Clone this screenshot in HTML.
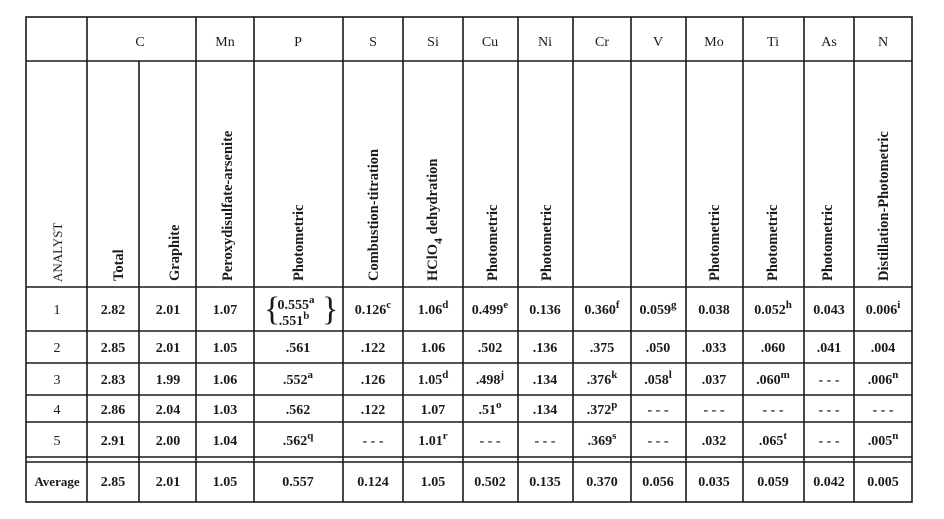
<!DOCTYPE html>
<html><head><meta charset="utf-8"><style>
html,body{margin:0;padding:0;background:#fff;}
svg{display:block;}
text{font-family:"Liberation Serif",serif;fill:#1a1a1a;}
.n{font-size:14px;font-weight:bold;text-anchor:middle;}
.h{font-size:14px;text-anchor:middle;}
.r{font-size:14.5px;font-weight:bold;}
.s{font-size:11px;font-weight:bold;}
</style></head><body>
<svg width="944" height="519" viewBox="0 0 944 519" xmlns="http://www.w3.org/2000/svg">
<g stroke="#1a1a1a" stroke-width="1.6" fill="none">
<rect x="26" y="17" width="886" height="485"/>
<line x1="26" y1="61" x2="912" y2="61"/>
<line x1="26" y1="287" x2="912" y2="287"/>
<line x1="26" y1="331" x2="912" y2="331"/>
<line x1="26" y1="363" x2="912" y2="363"/>
<line x1="26" y1="395" x2="912" y2="395"/>
<line x1="26" y1="422" x2="912" y2="422"/>
<line x1="26" y1="457" x2="912" y2="457"/>
<line x1="26" y1="462" x2="912" y2="462"/>
<line x1="87" y1="17" x2="87" y2="502"/>
<line x1="139" y1="61" x2="139" y2="502"/>
<line x1="196" y1="17" x2="196" y2="502"/>
<line x1="254" y1="17" x2="254" y2="502"/>
<line x1="343" y1="17" x2="343" y2="502"/>
<line x1="403" y1="17" x2="403" y2="502"/>
<line x1="463" y1="17" x2="463" y2="502"/>
<line x1="518" y1="17" x2="518" y2="502"/>
<line x1="573" y1="17" x2="573" y2="502"/>
<line x1="631" y1="17" x2="631" y2="502"/>
<line x1="686" y1="17" x2="686" y2="502"/>
<line x1="743" y1="17" x2="743" y2="502"/>
<line x1="804" y1="17" x2="804" y2="502"/>
<line x1="854" y1="17" x2="854" y2="502"/>
</g>
<g class="h">
<text class="h" x="140" y="46">C</text>
<text class="h" x="225" y="46">Mn</text>
<text class="h" x="298" y="46">P</text>
<text class="h" x="373" y="46">S</text>
<text class="h" x="433" y="46">Si</text>
<text class="h" x="490" y="46">Cu</text>
<text class="h" x="545" y="46">Ni</text>
<text class="h" x="602" y="46">Cr</text>
<text class="h" x="658" y="46">V</text>
<text class="h" x="714" y="46">Mo</text>
<text class="h" x="773" y="46">Ti</text>
<text class="h" x="829" y="46">As</text>
<text class="h" x="883" y="46">N</text>
</g>
<g>
<text class="r" style="font-weight:normal;font-size:13px" transform="translate(62,282) rotate(-90)">ANALYST</text>
<text class="r" transform="translate(123,281) rotate(-90)">Total</text>
<text class="r" transform="translate(179,281) rotate(-90)">Graphite</text>
<text class="r" transform="translate(232,281) rotate(-90)">Peroxydisulfate-arsenite</text>
<text class="r" transform="translate(303,281) rotate(-90)">Photometric</text>
<text class="r" transform="translate(378,281) rotate(-90)">Combustion-titration</text>
<text class="r" transform="translate(437,281) rotate(-90)">HClO<tspan dy="5" font-size="12">4</tspan><tspan dy="-5"> dehydration</tspan></text>
<text class="r" transform="translate(497,281) rotate(-90)">Photometric</text>
<text class="r" transform="translate(551,281) rotate(-90)">Photometric</text>
<text class="r" transform="translate(719,281) rotate(-90)">Photometric</text>
<text class="r" transform="translate(777,281) rotate(-90)">Photometric</text>
<text class="r" transform="translate(832,281) rotate(-90)">Photometric</text>
<text class="r" transform="translate(888,281) rotate(-90)">Distillation-Photometric</text>
</g>
<g>
<text class="n" x="57" y="314" style="font-weight:normal">1</text>
<text class="n" x="113" y="314">2.82</text>
<text class="n" x="168" y="314">2.01</text>
<text class="n" x="225" y="314">1.07</text>
<text x="264" y="320" style="font-size:34px;font-weight:normal">{</text>
<text x="322" y="320" style="font-size:34px;font-weight:normal">}</text>
<text class="n" x="296" y="309">0.555<tspan class="s" dy="-6">a</tspan></text>
<text class="n" x="294" y="325">.551<tspan class="s" dy="-6">b</tspan></text>
<text class="n" x="373" y="314">0.126<tspan class="s" dy="-6">c</tspan></text>
<text class="n" x="433" y="314">1.06<tspan class="s" dy="-6">d</tspan></text>
<text class="n" x="490" y="314">0.499<tspan class="s" dy="-6">e</tspan></text>
<text class="n" x="545" y="314">0.136</text>
<text class="n" x="602" y="314">0.360<tspan class="s" dy="-6">f</tspan></text>
<text class="n" x="658" y="314">0.059<tspan class="s" dy="-6">g</tspan></text>
<text class="n" x="714" y="314">0.038</text>
<text class="n" x="773" y="314">0.052<tspan class="s" dy="-6">h</tspan></text>
<text class="n" x="829" y="314">0.043</text>
<text class="n" x="883" y="314">0.006<tspan class="s" dy="-6">i</tspan></text>
</g>
<g>
<text class="n" x="57" y="352" style="font-weight:normal">2</text>
<text class="n" x="113" y="352">2.85</text>
<text class="n" x="168" y="352">2.01</text>
<text class="n" x="225" y="352">1.05</text>
<text class="n" x="298" y="352">.561</text>
<text class="n" x="373" y="352">.122</text>
<text class="n" x="433" y="352">1.06</text>
<text class="n" x="490" y="352">.502</text>
<text class="n" x="545" y="352">.136</text>
<text class="n" x="602" y="352">.375</text>
<text class="n" x="658" y="352">.050</text>
<text class="n" x="714" y="352">.033</text>
<text class="n" x="773" y="352">.060</text>
<text class="n" x="829" y="352">.041</text>
<text class="n" x="883" y="352">.004</text>
</g>
<g>
<text class="n" x="57" y="384" style="font-weight:normal">3</text>
<text class="n" x="113" y="384">2.83</text>
<text class="n" x="168" y="384">1.99</text>
<text class="n" x="225" y="384">1.06</text>
<text class="n" x="298" y="384">.552<tspan class="s" dy="-6">a</tspan></text>
<text class="n" x="373" y="384">.126</text>
<text class="n" x="433" y="384">1.05<tspan class="s" dy="-6">d</tspan></text>
<text class="n" x="490" y="384">.498<tspan class="s" dy="-6">j</tspan></text>
<text class="n" x="545" y="384">.134</text>
<text class="n" x="602" y="384">.376<tspan class="s" dy="-6">k</tspan></text>
<text class="n" x="658" y="384">.058<tspan class="s" dy="-6">l</tspan></text>
<text class="n" x="714" y="384">.037</text>
<text class="n" x="773" y="384">.060<tspan class="s" dy="-6">m</tspan></text>
<text class="n" x="829" y="384">- - -</text>
<text class="n" x="883" y="384">.006<tspan class="s" dy="-6">n</tspan></text>
</g>
<g>
<text class="n" x="57" y="414" style="font-weight:normal">4</text>
<text class="n" x="113" y="414">2.86</text>
<text class="n" x="168" y="414">2.04</text>
<text class="n" x="225" y="414">1.03</text>
<text class="n" x="298" y="414">.562</text>
<text class="n" x="373" y="414">.122</text>
<text class="n" x="433" y="414">1.07</text>
<text class="n" x="490" y="414">.51<tspan class="s" dy="-6">o</tspan></text>
<text class="n" x="545" y="414">.134</text>
<text class="n" x="602" y="414">.372<tspan class="s" dy="-6">p</tspan></text>
<text class="n" x="658" y="414">- - -</text>
<text class="n" x="714" y="414">- - -</text>
<text class="n" x="773" y="414">- - -</text>
<text class="n" x="829" y="414">- - -</text>
<text class="n" x="883" y="414">- - -</text>
</g>
<g>
<text class="n" x="57" y="445" style="font-weight:normal">5</text>
<text class="n" x="113" y="445">2.91</text>
<text class="n" x="168" y="445">2.00</text>
<text class="n" x="225" y="445">1.04</text>
<text class="n" x="298" y="445">.562<tspan class="s" dy="-6">q</tspan></text>
<text class="n" x="373" y="445">- - -</text>
<text class="n" x="433" y="445">1.01<tspan class="s" dy="-6">r</tspan></text>
<text class="n" x="490" y="445">- - -</text>
<text class="n" x="545" y="445">- - -</text>
<text class="n" x="602" y="445">.369<tspan class="s" dy="-6">s</tspan></text>
<text class="n" x="658" y="445">- - -</text>
<text class="n" x="714" y="445">.032</text>
<text class="n" x="773" y="445">.065<tspan class="s" dy="-6">t</tspan></text>
<text class="n" x="829" y="445">- - -</text>
<text class="n" x="883" y="445">.005<tspan class="s" dy="-6">n</tspan></text>
</g>
<g>
<text class="n" x="57" y="486" style="font-size:13px">Average</text>
<text class="n" x="113" y="486">2.85</text>
<text class="n" x="168" y="486">2.01</text>
<text class="n" x="225" y="486">1.05</text>
<text class="n" x="298" y="486">0.557</text>
<text class="n" x="373" y="486">0.124</text>
<text class="n" x="433" y="486">1.05</text>
<text class="n" x="490" y="486">0.502</text>
<text class="n" x="545" y="486">0.135</text>
<text class="n" x="602" y="486">0.370</text>
<text class="n" x="658" y="486">0.056</text>
<text class="n" x="714" y="486">0.035</text>
<text class="n" x="773" y="486">0.059</text>
<text class="n" x="829" y="486">0.042</text>
<text class="n" x="883" y="486">0.005</text>
</g>
</svg>
</body></html>
